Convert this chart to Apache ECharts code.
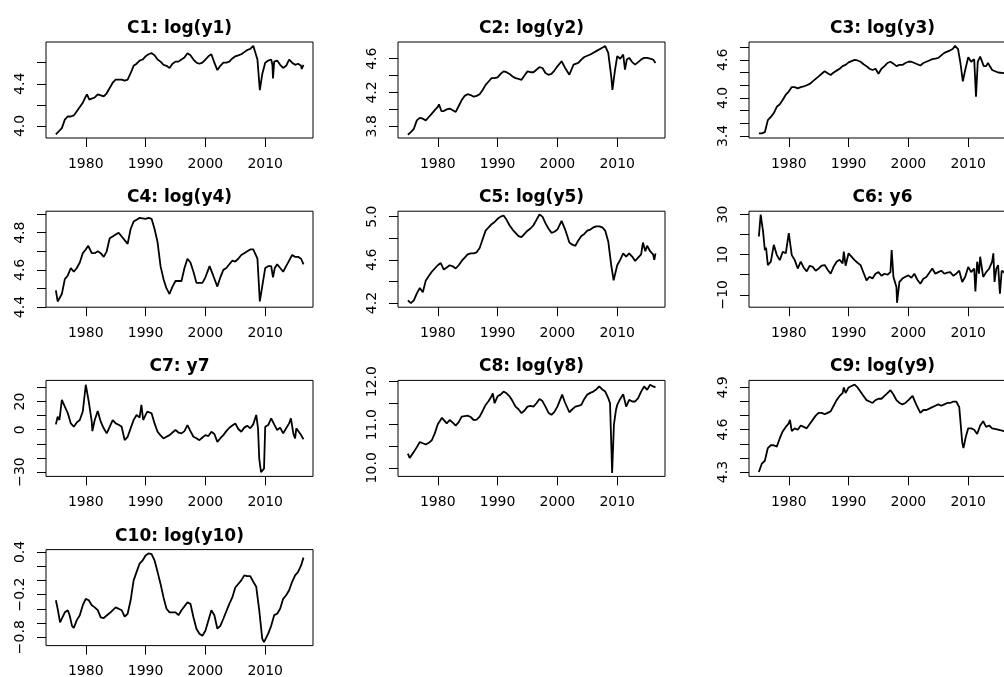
<!DOCTYPE html>
<html><head><meta charset="utf-8">
<script src="https://cdn.jsdelivr.net/npm/echarts@6/dist/echarts.min.js"></script>
<style>html,body{margin:0;padding:0;background:#fff}#c{width:1004px;height:677px}</style>
</head><body><div id="c"></div>
<script>
const titles = ['C1: log(y1)','C2: log(y2)','C3: log(y3)','C4: log(y4)','C5: log(y5)','C6: y6','C7: y7','C8: log(y8)','C9: log(y9)','C10: log(y10)'];
const xTicks = [1980, 1990, 2000, 2010];
const xRange = [1973.35, 2017.99];

const c1 = [[1975.0,3.92],[1975.5,3.95],[1976.0,3.98],[1976.5,4.06],[1977.0,4.09],[1977.5,4.09],[1978.0,4.10],[1978.5,4.14],[1979.0,4.18],[1979.5,4.22],[1980.0,4.28],[1980.2,4.30],[1980.6,4.25],[1981.0,4.26],[1981.5,4.27],[1982.0,4.30],[1982.5,4.29],[1983.0,4.28],[1983.5,4.31],[1984.0,4.36],[1984.5,4.41],[1985.0,4.44],[1986.0,4.44],[1986.5,4.43],[1987.0,4.44],[1987.5,4.50],[1988.0,4.57],[1988.5,4.59],[1989.0,4.62],[1989.5,4.63],[1990.0,4.66],[1990.5,4.68],[1991.0,4.69],[1991.5,4.67],[1992.0,4.63],[1992.5,4.61],[1993.0,4.58],[1993.5,4.57],[1994.0,4.55],[1994.5,4.59],[1995.0,4.61],[1995.5,4.61],[1996.0,4.63],[1996.5,4.65],[1997.0,4.69],[1997.5,4.67],[1998.0,4.63],[1998.5,4.60],[1999.0,4.59],[1999.5,4.60],[2000.0,4.63],[2000.5,4.66],[2001.0,4.68],[2001.5,4.60],[2002.0,4.53],[2002.5,4.57],[2003.0,4.60],[2003.5,4.60],[2004.0,4.61],[2004.5,4.64],[2005.0,4.66],[2005.5,4.67],[2006.0,4.68],[2006.5,4.70],[2007.0,4.72],[2007.5,4.73],[2008.0,4.76],[2008.3,4.755],[2008.7,4.63],[2009.1,4.34],[2009.5,4.49],[2010.0,4.60],[2010.5,4.62],[2011.0,4.63],[2011.2,4.58],[2011.3,4.45],[2011.5,4.61],[2012.0,4.62],[2012.5,4.58],[2013.0,4.55],[2013.5,4.57],[2014.0,4.63],[2014.5,4.60],[2015.0,4.58],[2015.5,4.59],[2016.0,4.57],[2016.1,4.54],[2016.4,4.58]];
const c2 = [[1975.0,3.70],[1975.5,3.73],[1976.0,3.77],[1976.5,3.87],[1977.0,3.90],[1977.5,3.89],[1978.0,3.87],[1978.5,3.91],[1979.0,3.95],[1979.5,3.99],[1980.0,4.03],[1980.2,4.06],[1980.6,3.98],[1981.0,3.98],[1981.5,4.00],[1982.0,4.01],[1982.5,3.99],[1983.0,3.97],[1983.5,4.04],[1984.0,4.11],[1984.5,4.16],[1985.0,4.18],[1985.5,4.17],[1986.0,4.15],[1986.5,4.16],[1987.0,4.18],[1987.5,4.23],[1988.0,4.29],[1988.5,4.33],[1989.0,4.37],[1989.5,4.37],[1990.0,4.38],[1990.5,4.42],[1991.0,4.45],[1991.5,4.44],[1992.0,4.42],[1992.5,4.39],[1993.0,4.37],[1993.5,4.36],[1994.0,4.35],[1994.5,4.40],[1995.0,4.45],[1995.5,4.44],[1996.0,4.44],[1996.5,4.47],[1997.0,4.50],[1997.5,4.49],[1998.0,4.43],[1998.5,4.41],[1999.0,4.42],[1999.5,4.46],[2000.0,4.51],[2000.7,4.57],[2001.3,4.49],[2002.0,4.41],[2002.7,4.53],[2003.5,4.55],[2004.0,4.59],[2004.5,4.62],[2005.5,4.65],[2006.5,4.69],[2007.5,4.73],[2008.0,4.75],[2008.5,4.67],[2009.0,4.39],[2009.2,4.23],[2009.6,4.45],[2010.0,4.63],[2010.5,4.60],[2011.0,4.65],[2011.3,4.47],[2011.6,4.59],[2012.0,4.61],[2012.5,4.56],[2013.0,4.53],[2013.5,4.56],[2014.0,4.59],[2014.5,4.61],[2015.0,4.61],[2015.5,4.60],[2016.0,4.59],[2016.4,4.55]];
const c3 = [[1975.0,3.44],[1975.5,3.44],[1976.0,3.46],[1976.5,3.65],[1977.0,3.70],[1977.5,3.76],[1978.0,3.86],[1978.5,3.90],[1979.0,3.97],[1979.5,4.05],[1980.0,4.10],[1980.5,4.17],[1981.0,4.17],[1981.5,4.15],[1982.0,4.17],[1982.5,4.18],[1983.0,4.20],[1983.5,4.22],[1984.0,4.26],[1984.5,4.30],[1985.0,4.34],[1985.5,4.38],[1986.0,4.42],[1986.5,4.39],[1987.0,4.36],[1987.5,4.40],[1988.0,4.43],[1988.5,4.46],[1989.0,4.50],[1989.5,4.52],[1990.0,4.56],[1990.5,4.58],[1991.0,4.60],[1991.5,4.59],[1992.0,4.57],[1992.5,4.53],[1993.0,4.50],[1993.5,4.46],[1994.0,4.44],[1994.5,4.46],[1995.0,4.38],[1995.5,4.46],[1996.0,4.50],[1996.5,4.55],[1997.0,4.57],[1997.5,4.54],[1998.0,4.50],[1998.5,4.52],[1999.0,4.52],[1999.5,4.55],[2000.0,4.57],[2000.5,4.57],[2001.0,4.55],[2001.5,4.53],[2002.0,4.51],[2002.5,4.55],[2003.0,4.57],[2003.5,4.59],[2004.0,4.61],[2004.5,4.62],[2005.0,4.63],[2005.5,4.67],[2006.0,4.71],[2006.5,4.73],[2007.0,4.75],[2007.4,4.77],[2007.8,4.82],[2008.3,4.77],[2008.7,4.55],[2009.1,4.26],[2009.5,4.44],[2010.0,4.64],[2010.5,4.57],[2011.0,4.61],[2011.3,4.02],[2011.6,4.57],[2012.0,4.65],[2012.6,4.50],[2013.0,4.50],[2013.3,4.55],[2014.0,4.44],[2015.0,4.40],[2016.0,4.39],[2016.4,4.40]];
const c4 = [[1975.0,4.49],[1975.3,4.43],[1975.6,4.42],[1976.0,4.47],[1976.5,4.55],[1977.0,4.57],[1977.5,4.61],[1978.0,4.59],[1978.5,4.61],[1979.0,4.64],[1979.5,4.69],[1980.0,4.71],[1980.4,4.73],[1981.0,4.69],[1981.5,4.69],[1982.0,4.70],[1982.5,4.69],[1983.0,4.67],[1983.5,4.70],[1984.0,4.77],[1984.5,4.78],[1985.0,4.79],[1985.5,4.80],[1986.0,4.78],[1986.5,4.76],[1987.0,4.74],[1987.5,4.82],[1988.0,4.86],[1988.5,4.87],[1989.0,4.88],[1989.3,4.89],[1990.0,4.875],[1990.5,4.88],[1991.0,4.875],[1991.5,4.82],[1992.0,4.75],[1992.5,4.62],[1993.0,4.55],[1993.5,4.50],[1994.0,4.47],[1994.5,4.51],[1995.0,4.54],[1995.5,4.54],[1996.0,4.54],[1996.5,4.61],[1997.0,4.66],[1997.5,4.64],[1998.0,4.59],[1998.5,4.53],[1999.0,4.53],[1999.5,4.53],[2000.0,4.56],[2000.7,4.62],[2001.3,4.57],[2002.0,4.51],[2002.5,4.56],[2003.0,4.60],[2003.5,4.61],[2004.0,4.63],[2004.5,4.65],[2005.0,4.645],[2005.5,4.66],[2006.0,4.68],[2006.5,4.69],[2007.0,4.70],[2007.5,4.71],[2008.0,4.71],[2008.3,4.72],[2008.7,4.66],[2009.1,4.43],[2009.6,4.53],[2010.0,4.61],[2010.5,4.62],[2011.0,4.62],[2011.3,4.56],[2011.6,4.61],[2012.0,4.63],[2012.5,4.61],[2013.0,4.59],[2013.5,4.62],[2014.0,4.65],[2014.5,4.68],[2015.0,4.67],[2015.5,4.67],[2016.0,4.66],[2016.4,4.63]];
const c5 = [[1975.0,4.225],[1975.5,4.20],[1976.0,4.225],[1976.5,4.29],[1977.0,4.34],[1977.5,4.30],[1978.0,4.41],[1978.5,4.45],[1979.0,4.49],[1979.5,4.52],[1980.0,4.55],[1980.5,4.57],[1981.0,4.51],[1981.5,4.53],[1982.0,4.55],[1982.5,4.54],[1983.0,4.52],[1983.5,4.55],[1984.0,4.59],[1984.5,4.62],[1985.0,4.65],[1985.5,4.66],[1986.0,4.66],[1986.5,4.67],[1987.0,4.71],[1987.5,4.79],[1988.0,4.87],[1988.5,4.90],[1989.0,4.93],[1989.5,4.95],[1990.0,4.98],[1990.5,5.00],[1991.0,5.01],[1991.5,4.97],[1992.0,4.92],[1992.5,4.88],[1993.0,4.85],[1993.5,4.82],[1994.0,4.81],[1994.5,4.84],[1995.0,4.87],[1995.5,4.89],[1996.0,4.92],[1996.5,4.97],[1997.0,5.02],[1997.5,5.00],[1998.0,4.94],[1998.5,4.89],[1999.0,4.85],[1999.5,4.86],[2000.0,4.88],[2000.7,4.96],[2001.3,4.88],[2002.0,4.76],[2002.5,4.74],[2003.0,4.73],[2003.5,4.78],[2004.0,4.82],[2004.5,4.84],[2005.0,4.87],[2005.5,4.88],[2006.0,4.90],[2006.5,4.91],[2007.0,4.91],[2007.5,4.90],[2008.0,4.87],[2008.5,4.77],[2009.0,4.55],[2009.4,4.41],[2010.0,4.55],[2010.5,4.60],[2011.0,4.66],[2011.5,4.63],[2012.0,4.66],[2012.5,4.63],[2013.0,4.59],[2013.5,4.62],[2014.0,4.65],[2014.3,4.76],[2014.7,4.68],[2015.0,4.73],[2015.5,4.68],[2016.0,4.65],[2016.2,4.60],[2016.4,4.66]];
const c6 = [[1975.0,19.1],[1975.3,30.0],[1975.7,21.6],[1976.0,12.3],[1976.2,13.5],[1976.5,4.8],[1977.0,6.5],[1977.5,14.9],[1978.0,9.8],[1978.5,7.3],[1979.0,11.5],[1979.5,10.7],[1980.0,20.7],[1980.5,9.8],[1981.0,7.3],[1981.5,3.1],[1982.0,6.5],[1982.5,3.5],[1983.0,1.7],[1983.5,4.5],[1984.0,3.9],[1984.5,2.0],[1985.0,3.1],[1985.5,4.5],[1986.0,4.8],[1986.5,2.5],[1987.0,0.5],[1987.5,4.0],[1988.0,6.5],[1988.5,7.5],[1989.0,5.6],[1989.2,11.5],[1989.5,4.5],[1990.0,10.7],[1990.3,11.5],[1991.0,7.3],[1991.5,6.0],[1992.0,4.8],[1992.5,1.0],[1993.0,-2.8],[1993.5,-1.0],[1994.0,-1.9],[1994.5,0.5],[1995.0,1.3],[1995.5,-0.5],[1996.0,0.5],[1996.5,0.0],[1997.0,1.3],[1997.2,12.3],[1997.5,-1.1],[1998.0,-6.1],[1998.1,-14.0],[1998.5,-3.6],[1999.0,-1.9],[1999.5,-1.0],[2000.0,-0.3],[2000.5,-1.5],[2001.0,0.5],[2001.5,-2.5],[2002.0,-4.5],[2002.5,-2.0],[2003.0,-1.1],[2003.5,1.0],[2004.0,3.1],[2004.5,0.5],[2005.0,1.3],[2005.5,2.0],[2006.0,0.5],[2006.5,1.0],[2007.0,1.3],[2007.5,-0.5],[2008.0,0.5],[2008.5,2.0],[2009.0,-3.6],[2009.5,-1.0],[2010.0,3.9],[2010.5,1.3],[2011.0,3.1],[2011.2,-8.3],[2011.5,6.5],[2011.8,0.5],[2012.0,9.0],[2012.5,-1.1],[2013.0,1.3],[2013.5,3.0],[2014.0,6.5],[2014.2,10.7],[2014.4,-3.6],[2014.7,3.0],[2015.0,4.8],[2015.3,-9.5],[2015.6,2.0],[2016.0,1.3],[2016.4,-1.0]];
const c7 = [[1975.0,3.8],[1975.3,9.3],[1975.6,6.9],[1976.0,21.2],[1976.5,16.4],[1977.0,11.7],[1977.5,4.5],[1978.0,2.1],[1978.5,5.2],[1979.0,6.9],[1979.5,12.9],[1980.0,31.9],[1980.5,20.0],[1981.0,5.7],[1981.1,-1.0],[1981.5,6.9],[1982.0,13.3],[1982.5,5.7],[1983.0,1.0],[1983.5,-2.6],[1984.0,2.1],[1984.5,6.9],[1985.0,4.5],[1985.5,3.5],[1986.0,2.1],[1986.5,-7.4],[1986.8,-8.1],[1987.0,-5.0],[1987.5,1.0],[1988.0,6.9],[1988.5,10.5],[1989.0,8.6],[1989.3,17.6],[1989.6,6.9],[1990.0,10.5],[1990.3,12.9],[1991.0,11.7],[1991.5,4.5],[1992.0,-1.4],[1992.5,-4.0],[1993.0,-6.2],[1993.5,-5.0],[1994.0,-3.8],[1994.5,-2.0],[1995.0,-0.2],[1995.5,-2.0],[1996.0,-2.6],[1996.5,-1.0],[1997.0,3.3],[1997.2,4.5],[1997.5,-1.0],[1998.0,-5.0],[1998.5,-6.0],[1999.0,-7.4],[1999.5,-5.5],[2000.0,-3.8],[2000.5,-4.5],[2001.0,-1.4],[2001.5,-3.0],[2002.0,-8.6],[2002.5,-6.0],[2003.0,-3.8],[2003.5,-1.0],[2004.0,1.4],[2004.5,3.0],[2005.0,4.5],[2005.5,0.5],[2006.0,-1.4],[2006.5,1.5],[2007.0,2.9],[2007.5,1.0],[2008.0,3.8],[2008.5,10.5],[2008.8,1.0],[2009.0,-20.5],[2009.3,-30.0],[2009.8,-27.6],[2010.0,2.1],[2010.5,3.3],[2011.0,8.1],[2011.5,3.8],[2012.0,-0.2],[2012.5,1.5],[2013.0,-2.6],[2013.5,1.0],[2014.0,4.5],[2014.3,8.1],[2014.7,-2.6],[2015.0,-6.2],[2015.2,1.0],[2015.5,-0.2],[2016.0,-3.8],[2016.4,-6.7]];
const c8 = [[1975.0,10.33],[1975.3,10.23],[1976.0,10.37],[1976.5,10.48],[1977.0,10.60],[1977.5,10.57],[1978.0,10.54],[1978.5,10.58],[1979.0,10.64],[1979.5,10.80],[1980.0,11.01],[1980.7,11.16],[1981.5,11.03],[1982.0,11.11],[1982.5,11.05],[1983.0,10.98],[1983.5,11.06],[1984.0,11.19],[1985.0,11.21],[1985.5,11.18],[1986.0,11.11],[1986.5,11.12],[1987.0,11.19],[1987.5,11.32],[1988.0,11.46],[1988.5,11.55],[1989.0,11.66],[1989.2,11.73],[1989.5,11.50],[1990.0,11.66],[1990.5,11.70],[1991.0,11.77],[1991.5,11.73],[1992.0,11.66],[1992.5,11.55],[1993.0,11.42],[1993.5,11.36],[1994.0,11.27],[1994.5,11.33],[1995.0,11.42],[1995.5,11.44],[1996.0,11.42],[1996.5,11.50],[1997.0,11.60],[1997.5,11.55],[1998.0,11.42],[1998.5,11.28],[1999.0,11.23],[1999.5,11.30],[2000.0,11.42],[2000.8,11.70],[2001.2,11.54],[2002.0,11.29],[2002.5,11.36],[2003.0,11.42],[2003.5,11.44],[2004.0,11.46],[2004.5,11.60],[2005.0,11.70],[2005.5,11.74],[2006.0,11.77],[2006.5,11.82],[2007.0,11.89],[2007.5,11.82],[2008.0,11.77],[2008.5,11.62],[2008.8,11.50],[2009.15,9.88],[2009.45,11.00],[2009.8,11.35],[2010.0,11.46],[2010.5,11.60],[2011.0,11.71],[2011.5,11.42],[2012.0,11.58],[2012.5,11.54],[2013.0,11.54],[2013.5,11.62],[2014.0,11.77],[2014.5,11.89],[2015.0,11.81],[2015.5,11.93],[2016.0,11.89],[2016.4,11.87]];
const c9 = [[1975.0,4.30],[1975.5,4.36],[1976.0,4.38],[1976.5,4.47],[1977.0,4.49],[1977.5,4.49],[1978.0,4.48],[1978.5,4.54],[1979.0,4.59],[1979.5,4.62],[1980.0,4.645],[1980.2,4.67],[1980.5,4.59],[1981.0,4.61],[1981.5,4.60],[1982.0,4.63],[1982.5,4.62],[1983.0,4.61],[1983.5,4.64],[1984.0,4.67],[1984.5,4.70],[1985.0,4.72],[1985.5,4.72],[1986.0,4.71],[1986.5,4.72],[1987.0,4.73],[1987.5,4.77],[1988.0,4.81],[1988.5,4.84],[1989.0,4.86],[1989.2,4.90],[1989.5,4.86],[1990.0,4.90],[1990.5,4.91],[1991.0,4.92],[1991.5,4.90],[1992.0,4.87],[1992.5,4.84],[1993.0,4.81],[1993.5,4.80],[1994.0,4.79],[1994.5,4.81],[1995.0,4.82],[1995.5,4.82],[1996.0,4.84],[1996.5,4.86],[1997.0,4.88],[1997.5,4.85],[1998.0,4.81],[1998.5,4.79],[1999.0,4.78],[1999.5,4.79],[2000.0,4.81],[2000.7,4.84],[2001.3,4.78],[2002.0,4.72],[2002.5,4.74],[2003.0,4.74],[2003.5,4.75],[2004.0,4.76],[2004.5,4.77],[2005.0,4.78],[2005.5,4.77],[2006.0,4.78],[2006.5,4.79],[2007.0,4.79],[2007.5,4.80],[2008.0,4.80],[2008.5,4.76],[2009.0,4.51],[2009.2,4.47],[2009.6,4.55],[2010.0,4.61],[2010.5,4.61],[2011.0,4.60],[2011.5,4.57],[2012.0,4.63],[2012.5,4.66],[2013.0,4.62],[2013.5,4.63],[2014.0,4.61],[2015.0,4.60],[2016.0,4.59],[2016.4,4.59]];
const c10 = [[1975.0,-0.28],[1975.3,-0.40],[1975.7,-0.59],[1976.0,-0.60],[1976.5,-0.45],[1977.0,-0.42],[1977.3,-0.49],[1977.7,-0.64],[1978.0,-0.67],[1978.5,-0.56],[1979.0,-0.49],[1979.5,-0.35],[1980.0,-0.26],[1980.5,-0.28],[1981.0,-0.35],[1981.5,-0.38],[1982.0,-0.42],[1982.5,-0.52],[1983.0,-0.53],[1984.0,-0.46],[1985.0,-0.38],[1986.0,-0.42],[1986.5,-0.51],[1987.0,-0.47],[1987.5,-0.28],[1988.0,0.0],[1988.5,0.12],[1989.0,0.235],[1989.5,0.28],[1990.0,0.35],[1990.5,0.38],[1991.0,0.37],[1991.5,0.28],[1992.0,0.12],[1992.5,-0.05],[1993.0,-0.24],[1993.5,-0.40],[1994.0,-0.45],[1995.0,-0.45],[1995.5,-0.49],[1996.0,-0.42],[1997.0,-0.31],[1997.5,-0.33],[1998.0,-0.52],[1998.5,-0.68],[1999.0,-0.75],[1999.5,-0.78],[2000.0,-0.71],[2001.0,-0.42],[2001.5,-0.49],[2002.0,-0.68],[2002.5,-0.64],[2003.0,-0.54],[2004.0,-0.33],[2004.5,-0.24],[2005.0,-0.10],[2006.0,0.0],[2006.5,0.07],[2007.0,0.06],[2007.5,0.06],[2008.0,-0.02],[2008.5,-0.09],[2009.0,-0.42],[2009.5,-0.82],[2009.8,-0.87],[2010.0,-0.85],[2010.5,-0.75],[2011.0,-0.64],[2011.5,-0.49],[2012.0,-0.47],[2012.5,-0.40],[2013.0,-0.26],[2013.5,-0.21],[2014.0,-0.14],[2014.5,-0.02],[2015.0,0.07],[2015.5,0.12],[2016.0,0.21],[2016.4,0.32]];

const seriesData = [c1, c2, c3, c4, c5, c6, c7, c8, c9, c10];
const yRanges = [[3.886,4.796],[3.661,4.798],[3.368,4.881],[4.399,4.916],[4.162,5.05],[-16.2,31.7],[-33.1,35.0],[9.80,12.03],[4.269,4.95],[-0.918,0.433]];
const yTicks = [
  [4.0,4.2,4.4,4.6],
  [3.8,4.0,4.2,4.4,4.6],
  [3.4,3.6,3.8,4.0,4.2,4.4,4.6,4.8],
  [4.4,4.5,4.6,4.7,4.8,4.9],
  [4.2,4.4,4.6,4.8,5.0],
  [-10,0,10,20,30],
  [-30,-20,-10,0,10,20,30],
  [10.0,10.5,11.0,11.5,12.0],
  [4.3,4.4,4.5,4.6,4.7,4.8,4.9],
  [-0.8,-0.6,-0.4,-0.2,0.0,0.2,0.4]
];
const yLabels = [
  [4.0,4.4],
  [3.8,4.2,4.6],
  [3.4,4.0,4.6],
  [4.4,4.6,4.8],
  [4.2,4.6,5.0],
  [-10,10,30],
  [-30,0,20],
  [10.0,11.0,12.0],
  [4.3,4.6,4.9],
  [-0.8,-0.2,0.4]
];
const yDecimals = [1,1,1,1,1,0,0,1,1,1];

const colLeft = [46, 398, 749], rowTop = [42, 211.2, 380.4, 549.6], W = 267, H = 96;
const FONT = '"DejaVu Sans", "Liberation Sans", Arial, sans-serif';

function fmt(v, d) {
  const s = Math.abs(v).toFixed(d);
  return (v < -1e-9 ? '\u2212' : '') + s;
}

const grid = [], xAxis = [], yAxis = [], series = [], title = [];
for (let i = 0; i < 10; i++) {
  const r = Math.floor(i / 3), c = i % 3;
  const L = colLeft[c], T = rowTop[r];
  grid.push({left: L, top: T, width: W, height: H, show: true, borderColor: '#000', borderWidth: 1, backgroundColor: 'transparent', containLabel: false, outerBoundsMode: 'none'});
  title.push({text: titles[i], left: L + W / 2, top: T - 22, textAlign: 'center', padding: 0,
    textStyle: {fontFamily: FONT, fontSize: 17, fontWeight: 'bold', color: '#000'}});
  xAxis.push({type: 'value', gridIndex: i, position: 'bottom', min: xRange[0], max: xRange[1],
    axisLine: {show: false, onZero: false}, splitLine: {show: false},
    axisTick: {show: true, length: 9, lineStyle: {color: '#000', width: 1}, customValues: xTicks},
    axisLabel: {show: true, customValues: xTicks, margin: 19, color: '#000', fontFamily: FONT, fontSize: 14, formatter: v => String(Math.round(v))}
  });
  const d = yDecimals[i];
  yAxis.push({type: 'value', gridIndex: i, position: 'left', min: yRanges[i][0], max: yRanges[i][1],
    axisLine: {show: false, onZero: false}, splitLine: {show: false},
    axisTick: {show: true, length: 9, lineStyle: {color: '#000', width: 1}, customValues: yTicks[i]},
    axisLabel: {show: true, customValues: yLabels[i], rotate: 90, margin: 19, color: '#000', fontFamily: FONT, fontSize: 14, formatter: v => fmt(v, d)}
  });
  series.push({type: 'line', xAxisIndex: i, yAxisIndex: i, data: seriesData[i], showSymbol: false, symbol: 'none',
    lineStyle: {color: '#000', width: 1.8}, z: 3});
}

const chart = echarts.init(document.getElementById('c'), null, {renderer: 'canvas'});
chart.setOption({backgroundColor: '#fff', animation: false, title, grid, xAxis, yAxis, series});
</script>
</body></html>
